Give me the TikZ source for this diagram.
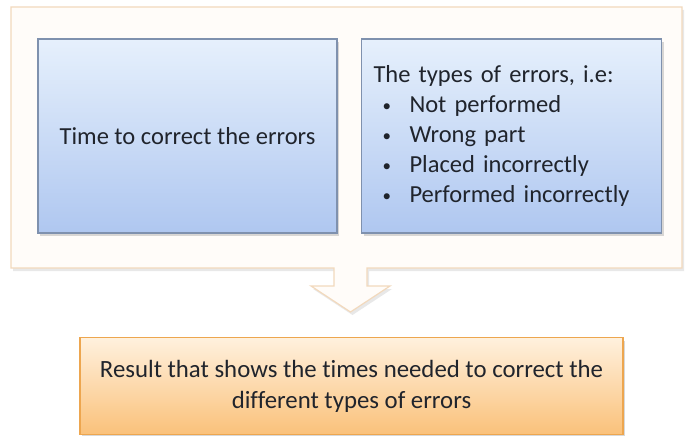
\documentclass[tikz,border=0pt]{standalone}
\usepackage{fontspec}
\setmainfont[Ligatures=CommonOff]{Carlito}
\usetikzlibrary{shadows}
\definecolor{framefill}{HTML}{FFFCF9}
\definecolor{framedraw}{HTML}{F2D9BD}
\definecolor{bluetop}{HTML}{E6F0FC}
\definecolor{bluebot}{HTML}{AFC7F0}
\definecolor{bluedraw}{HTML}{7F91AE}
\definecolor{orgtop}{HTML}{FFF1DE}
\definecolor{orgbot}{HTML}{FAC17A}
\definecolor{orgdraw}{HTML}{EDA64F}
\definecolor{txt}{HTML}{20242C}
\newcommand{\smallbul}{\makebox[27pt][l]{\raisebox{1pt}{\fontsize{17}{17}\selectfont\textbullet}}}
\tikzset{
  softshadow/.style={drop shadow={shadow xshift=2pt,shadow yshift=-3pt,opacity=0.25,fill=black!60}},
  bluebox/.style={draw=bluedraw,line width=1.1pt,top color=bluetop,bottom color=bluebot,
    minimum width=299pt,minimum height=194pt,inner sep=0pt,softshadow,text=txt,
    font=\fontsize{24.5}{30}\selectfont},
  orgbox/.style={draw=orgdraw,line width=1.1pt,top color=orgtop,bottom color=orgbot,
    minimum width=543pt,minimum height=97pt,inner sep=0pt,softshadow,text=txt,
    align=center,font=\fontsize{24.8}{31}\selectfont},
}
\begin{document}
\begin{tikzpicture}[x=1pt,y=-1pt]
\useasboundingbox (0,0) rectangle (686,436);
\fill[white] (0,0) rectangle (686,436);
% outer callout frame with down arrow
\coordinate (tip) at (350.5,312);
\draw[framedraw,line width=1.2pt,fill=framefill,
  drop shadow={shadow xshift=2pt,shadow yshift=-3pt,opacity=0.18,fill=black!50}]
  (11,7) -- (682,7) -- (682,268) -- (367,268) -- (367,286) -- (390,286)
  -- (tip) -- (311,286) -- (334,286) -- (334,268) -- (11,268) -- cycle;
\node[bluebox] (b1) at (187.5,136) {Time to correct the errors};
\node[bluebox,align=left,text width=276pt,inner xsep=12pt] (b2) at (511.5,136)
  {The types of errors, i.e:\\
   \hspace*{9pt}\smallbul Not performed\\
   \hspace*{9pt}\smallbul Wrong part\\
   \hspace*{9pt}\smallbul Placed incorrectly\\
   \hspace*{9pt}\smallbul Performed incorrectly};
\node[orgbox] (res) at (351.5,386)
  {Result that shows the times needed to correct the\\different types of errors};
\end{tikzpicture}
\end{document}
